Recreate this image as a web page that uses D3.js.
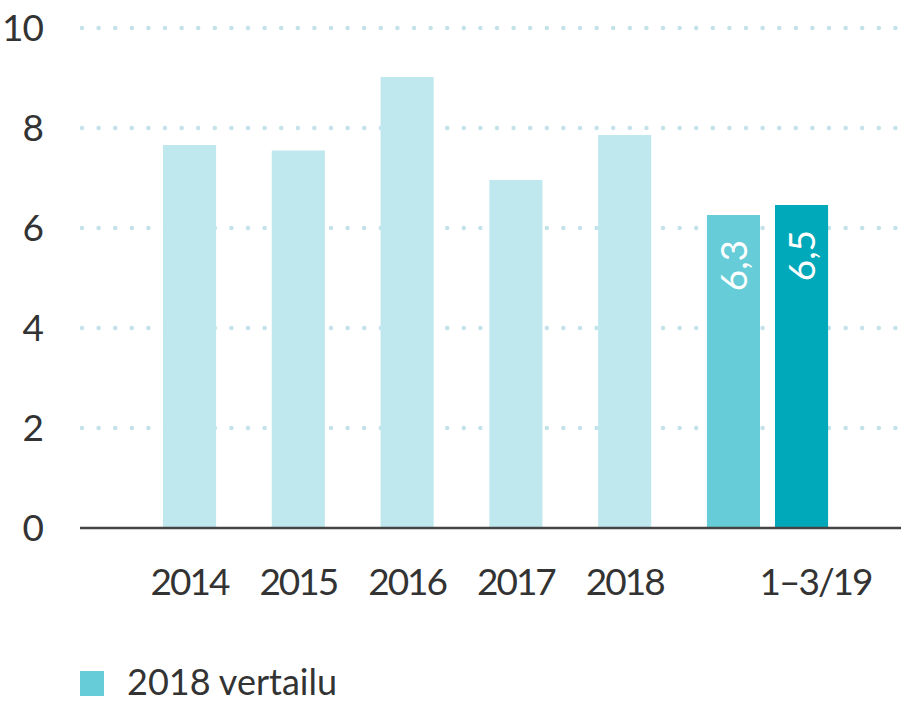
<!DOCTYPE html>
<html>
<head>
<meta charset="utf-8">
<script src="https://cdn.jsdelivr.net/npm/d3@7"></script>
<style>
  body { margin: 0; background: #fff; }
  svg { display: block; font-family: Lato, sans-serif; }
</style>
</head>
<body>
<svg id="chart" width="901" height="703"></svg>
<script>
// values
const years = ['2014', '2015', '2016', '2017', '2018'];
const yearValues = [7.66, 7.55, 9.02, 6.96, 7.86];
const quarterLabel = '1–3/19';
const quarterKeys = ['1–3/18', '1–3/19'];
const quarterValues = [6.26, 6.46];
const yTicks = [0, 2, 4, 6, 8, 10];
const legendLabel = '2018 vertailu';

const colors = { year: '#bfe8ee', compare: '#66ccd7', current: '#00a9b9' };

const svg = d3.select('#chart');
const margin = { top: 28, left: 80, bottom: 175 };
const height = 703 - margin.bottom;

const y = d3.scaleLinear().domain([0, 10]).range([height, margin.top]);

const x = d3.scaleBand()
    .domain([...years, quarterLabel])
    .range([163, 760])
    .paddingInner(0.512)
    .paddingOuter(0);
const bw = x.bandwidth();
const pairGap = 15;

// dotted gridlines
svg.append('g')
    .selectAll('line')
    .data(yTicks.filter(d => d > 0))
    .join('line')
    .attr('x1', margin.left + 2)
    .attr('x2', 901)
    .attr('y1', d => y(d))
    .attr('y2', d => y(d))
    .attr('stroke', '#c3e2e9')
    .attr('stroke-width', 4.5)
    .attr('stroke-linecap', 'round')
    .attr('stroke-dasharray', '0 16.6');

// y labels
svg.append('g')
    .selectAll('text')
    .data(yTicks)
    .join('text')
    .attr('x', 43)
    .attr('y', d => y(d))
    .attr('dy', '0.36em')
    .attr('text-anchor', 'end')
    .attr('fill', '#333')
    .attr('font-size', 37)
    .attr('letter-spacing', -1)
    .text(d => d);

// yearly bars
svg.append('g')
    .selectAll('rect')
    .data(years)
    .join('rect')
    .attr('x', d => x(d))
    .attr('width', bw)
    .attr('y', (d, i) => y(yearValues[i]))
    .attr('height', (d, i) => y(0) - y(yearValues[i]))
    .attr('fill', colors.year);

// quarter pair
const qx = i => x(quarterLabel) + i * (bw + pairGap);
const q = svg.append('g')
    .selectAll('g')
    .data(quarterKeys)
    .join('g');

q.append('rect')
    .attr('x', (d, i) => qx(i))
    .attr('width', bw)
    .attr('y', (d, i) => y(quarterValues[i]))
    .attr('height', (d, i) => y(0) - y(quarterValues[i]))
    .attr('fill', (d, i) => i === 0 ? colors.compare : colors.current);

q.append('text')
    .attr('transform', (d, i) => `translate(${qx(i) + bw / 2},${y(quarterValues[i]) + 25}) rotate(-90)`)
    .attr('text-anchor', 'end')
    .attr('dy', '0.36em')
    .attr('fill', '#fff')
    .attr('font-size', 37)
    .text((d, i) => d3.format('.1f')(quarterValues[i]).replace('.', ','));

// baseline
svg.append('line')
    .attr('x1', margin.left)
    .attr('x2', 901)
    .attr('y1', y(0))
    .attr('y2', y(0))
    .attr('stroke', '#444')
    .attr('stroke-width', 2.5);

// x labels
svg.append('g')
    .selectAll('text')
    .data(years)
    .join('text')
    .attr('x', d => x(d) + bw / 2)
    .attr('y', 595)
    .attr('text-anchor', 'middle')
    .attr('fill', '#333')
    .attr('font-size', 37)
    .attr('letter-spacing', -2)
    .text(d => d);

svg.append('text')
    .attr('x', qx(1) + bw / 2 + 14)
    .attr('y', 595)
    .attr('text-anchor', 'middle')
    .attr('fill', '#333')
    .attr('font-size', 37)
    .attr('letter-spacing', -2)
    .text(quarterLabel);

// legend
const legend = svg.append('g').attr('transform', 'translate(80,671)');
legend.append('rect')
    .attr('width', 24)
    .attr('height', 25)
    .attr('fill', colors.compare);
legend.append('text')
    .attr('x', 47)
    .attr('y', 24)
    .attr('fill', '#333')
    .attr('font-size', 36)
    .text(legendLabel);
</script>
</body>
</html>
